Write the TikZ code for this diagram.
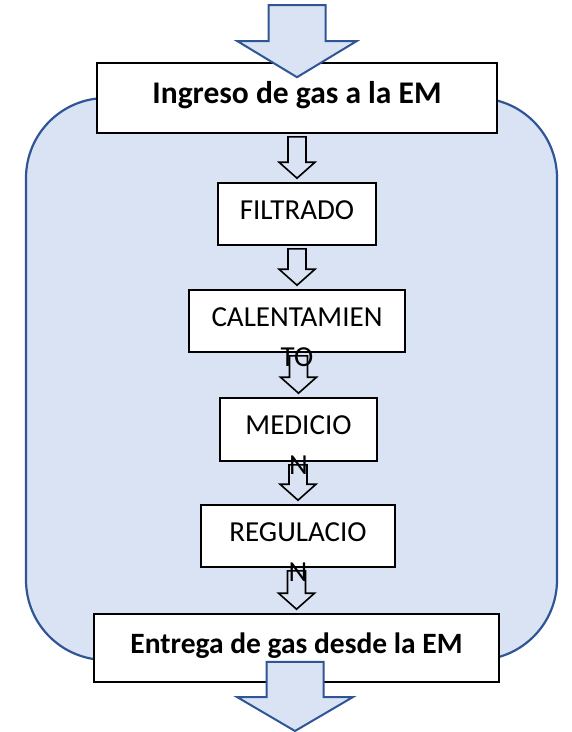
\documentclass[tikz,border=0pt]{standalone}
\usepackage{fontspec}
\setmainfont{Carlito}
\usetikzlibrary{calc}
\definecolor{azulclaro}{HTML}{DAE3F3}
\definecolor{azul}{HTML}{2F5597}
\tikzset{
  caja/.style={draw, fill=white, line width=1.6pt, align=center, inner sep=0pt,
    text height=10pt, text depth=0pt, font=\fontsize{29}{40}\selectfont},
  titulo/.style={caja, font=\bfseries\fontsize{31.5}{40}\selectfont},
  hueca/.style={draw=black, line width=1.6pt, line join=miter},
  grande/.style={draw=azul, fill=azulclaro, line width=2pt, line join=miter}
}
% word cut in two lines, first line on the baseline
\newcommand{\partido}[2]{\vtop{\hbox to 0pt{\hss#1\hss}\hbox to 0pt{\hss#2\hss}}}
% #1 style, #2 start of shaft, #3 tip, #4 half shaft, #5 half head, #6 head length
\newcommand{\flecha}[6]{\draw[#1] let \p1=(#2), \p2=(#3) in
  (\x2-#4,\y1) -- (\x2-#4,\y2+#6) -- (\x2-#5,\y2+#6) -- (\x2,\y2)
  -- (\x2+#5,\y2+#6) -- (\x2+#4,\y2+#6) -- (\x2+#4,\y1) -- cycle;}
\begin{document}
\begin{tikzpicture}[x=1pt,y=-1pt]
  \useasboundingbox (0,0) rectangle (572,732);
  \draw[azul, fill=azulclaro, line width=2.2pt, rounded corners=80pt] (26,98) rectangle (557,660);

  \node[titulo, minimum width=400pt, minimum height=70pt] (ingreso) at (297,98) {Ingreso de gas a la EM};
  \node[caja, minimum width=158pt, minimum height=62pt] (filtrado) at (297,214) {FILTRADO};
  \node[caja, minimum width=216pt, minimum height=62pt] (calentamiento) at (297,321) {\partido{CALENTAMIEN}{TO}};
  \node[caja, minimum width=157pt, minimum height=63pt] (medicion) at (298.5,429.5) {\partido{MEDICIO}{N}};
  \node[caja, minimum width=194pt, minimum height=62pt] (regulacion) at (298,536) {\partido{REGULACIO}{N}};
  \node[titulo, font=\bfseries\fontsize{29.5}{40}\selectfont, minimum width=405pt, minimum height=68pt]
    (entrega) at (296.5,648) {Entrega de gas desde la EM};

  \path (295.5,5) coordinate (entrada) (295,731) coordinate (salida);
  \flecha{grande}{entrada}{$(ingreso.north)+(0,15)$}{28.5pt}{59.5pt}{36pt}
  \flecha{grande}{$(entrega.south)+(0,-21)$}{salida}{28.5pt}{58pt}{34pt}

  \foreach \a/\b in {ingreso/filtrado, filtrado/calentamiento, calentamiento/medicion,
      medicion/regulacion, regulacion/entrega}
    {\flecha{hueca}{$(\a.south)+(0,3)$}{$(\b.north)+(0,-4)$}{9pt}{18pt}{16pt}}
\end{tikzpicture}
\end{document}
